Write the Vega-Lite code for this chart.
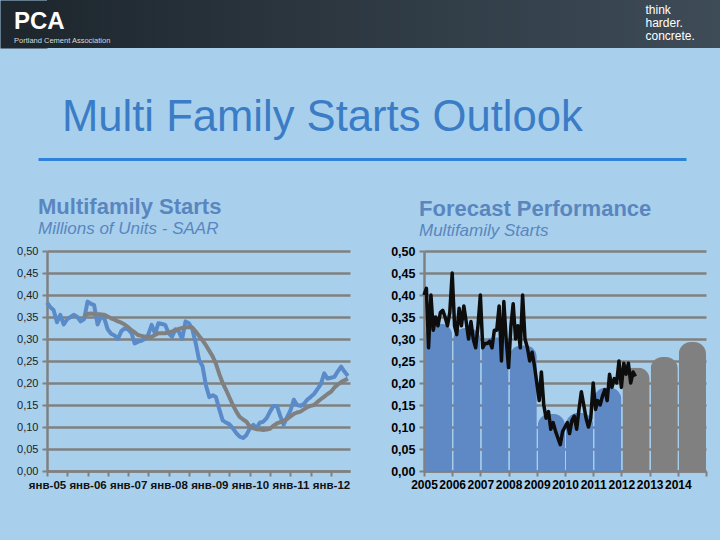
{
  "$schema": "https://vega.github.io/schema/vega-lite/v6.json",
  "background": "#a8d0ec",
  "padding": {"left": 0, "top": 0, "right": 0, "bottom": 49},
  "spacing": 48,
  "config": {"font": "Liberation Sans", "view": {"stroke": null}},
  "datasets": {
    "blue": [
      {"date":"2005-01-01","v":0.383},{"date":"2005-02-01","v":0.372},{"date":"2005-03-01","v":0.366},{"date":"2005-04-01","v":0.338},{"date":"2005-05-01","v":0.355},{"date":"2005-06-01","v":0.333},{"date":"2005-07-01","v":0.345},{"date":"2005-08-01","v":0.350},{"date":"2005-09-01","v":0.355},{"date":"2005-10-01","v":0.350},{"date":"2005-11-01","v":0.340},{"date":"2005-12-01","v":0.345},
      {"date":"2006-01-01","v":0.385},{"date":"2006-02-01","v":0.380},{"date":"2006-03-01","v":0.377},{"date":"2006-04-01","v":0.333},{"date":"2006-05-01","v":0.350},{"date":"2006-06-01","v":0.347},{"date":"2006-07-01","v":0.322},{"date":"2006-08-01","v":0.312},{"date":"2006-09-01","v":0.308},{"date":"2006-10-01","v":0.300},{"date":"2006-11-01","v":0.318},{"date":"2006-12-01","v":0.324},
      {"date":"2007-01-01","v":0.322},{"date":"2007-02-01","v":0.313},{"date":"2007-03-01","v":0.290},{"date":"2007-04-01","v":0.294},{"date":"2007-05-01","v":0.296},{"date":"2007-06-01","v":0.300},{"date":"2007-07-01","v":0.310},{"date":"2007-08-01","v":0.332},{"date":"2007-09-01","v":0.312},{"date":"2007-10-01","v":0.336},{"date":"2007-11-01","v":0.334},{"date":"2007-12-01","v":0.332},
      {"date":"2008-01-01","v":0.313},{"date":"2008-02-01","v":0.305},{"date":"2008-03-01","v":0.322},{"date":"2008-04-01","v":0.317},{"date":"2008-05-01","v":0.300},{"date":"2008-06-01","v":0.340},{"date":"2008-07-01","v":0.336},{"date":"2008-08-01","v":0.322},{"date":"2008-09-01","v":0.290},{"date":"2008-10-01","v":0.252},{"date":"2008-11-01","v":0.238},{"date":"2008-12-01","v":0.195},
      {"date":"2009-01-01","v":0.168},{"date":"2009-02-01","v":0.172},{"date":"2009-03-01","v":0.168},{"date":"2009-04-01","v":0.140},{"date":"2009-05-01","v":0.115},{"date":"2009-06-01","v":0.110},{"date":"2009-07-01","v":0.106},{"date":"2009-08-01","v":0.097},{"date":"2009-09-01","v":0.086},{"date":"2009-10-01","v":0.078},{"date":"2009-11-01","v":0.075},{"date":"2009-12-01","v":0.082},
      {"date":"2010-01-01","v":0.097},{"date":"2010-02-01","v":0.105},{"date":"2010-03-01","v":0.097},{"date":"2010-04-01","v":0.110},{"date":"2010-05-01","v":0.112},{"date":"2010-06-01","v":0.120},{"date":"2010-07-01","v":0.135},{"date":"2010-08-01","v":0.148},{"date":"2010-09-01","v":0.148},{"date":"2010-10-01","v":0.125},{"date":"2010-11-01","v":0.105},{"date":"2010-12-01","v":0.122},
      {"date":"2011-01-01","v":0.138},{"date":"2011-02-01","v":0.162},{"date":"2011-03-01","v":0.150},{"date":"2011-04-01","v":0.148},{"date":"2011-05-01","v":0.152},{"date":"2011-06-01","v":0.162},{"date":"2011-07-01","v":0.168},{"date":"2011-08-01","v":0.175},{"date":"2011-09-01","v":0.186},{"date":"2011-10-01","v":0.197},{"date":"2011-11-01","v":0.222},{"date":"2011-12-01","v":0.210},
      {"date":"2012-01-01","v":0.212},{"date":"2012-02-01","v":0.214},{"date":"2012-03-01","v":0.226},{"date":"2012-04-01","v":0.237},{"date":"2012-05-01","v":0.226},{"date":"2012-06-01","v":0.216}
    ],
    "gray": [
      {"date":"2005-12-01","v":0.352},
      {"date":"2006-01-01","v":0.357},{"date":"2006-02-01","v":0.358},{"date":"2006-03-01","v":0.357},{"date":"2006-04-01","v":0.356},{"date":"2006-05-01","v":0.356},{"date":"2006-06-01","v":0.355},{"date":"2006-07-01","v":0.351},{"date":"2006-08-01","v":0.347},{"date":"2006-09-01","v":0.344},{"date":"2006-10-01","v":0.340},{"date":"2006-11-01","v":0.337},{"date":"2006-12-01","v":0.333},
      {"date":"2007-01-01","v":0.327},{"date":"2007-02-01","v":0.320},{"date":"2007-03-01","v":0.315},{"date":"2007-04-01","v":0.309},{"date":"2007-05-01","v":0.307},{"date":"2007-06-01","v":0.305},{"date":"2007-07-01","v":0.305},{"date":"2007-08-01","v":0.305},{"date":"2007-09-01","v":0.309},{"date":"2007-10-01","v":0.313},{"date":"2007-11-01","v":0.313},{"date":"2007-12-01","v":0.313},
      {"date":"2008-01-01","v":0.315},{"date":"2008-02-01","v":0.317},{"date":"2008-03-01","v":0.320},{"date":"2008-04-01","v":0.323},{"date":"2008-05-01","v":0.325},{"date":"2008-06-01","v":0.326},{"date":"2008-07-01","v":0.327},{"date":"2008-08-01","v":0.326},{"date":"2008-09-01","v":0.317},{"date":"2008-10-01","v":0.307},{"date":"2008-11-01","v":0.297},{"date":"2008-12-01","v":0.286},
      {"date":"2009-01-01","v":0.273},{"date":"2009-02-01","v":0.260},{"date":"2009-03-01","v":0.244},{"date":"2009-04-01","v":0.220},{"date":"2009-05-01","v":0.200},{"date":"2009-06-01","v":0.184},{"date":"2009-07-01","v":0.167},{"date":"2009-08-01","v":0.150},{"date":"2009-09-01","v":0.135},{"date":"2009-10-01","v":0.123},{"date":"2009-11-01","v":0.117},{"date":"2009-12-01","v":0.112},
      {"date":"2010-01-01","v":0.101},{"date":"2010-02-01","v":0.097},{"date":"2010-03-01","v":0.095},{"date":"2010-04-01","v":0.094},{"date":"2010-05-01","v":0.093},{"date":"2010-06-01","v":0.094},{"date":"2010-07-01","v":0.096},{"date":"2010-08-01","v":0.103},{"date":"2010-09-01","v":0.108},{"date":"2010-10-01","v":0.111},{"date":"2010-11-01","v":0.114},{"date":"2010-12-01","v":0.118},
      {"date":"2011-01-01","v":0.124},{"date":"2011-02-01","v":0.130},{"date":"2011-03-01","v":0.133},{"date":"2011-04-01","v":0.135},{"date":"2011-05-01","v":0.140},{"date":"2011-06-01","v":0.145},{"date":"2011-07-01","v":0.148},{"date":"2011-08-01","v":0.150},{"date":"2011-09-01","v":0.157},{"date":"2011-10-01","v":0.163},{"date":"2011-11-01","v":0.169},{"date":"2011-12-01","v":0.175},
      {"date":"2012-01-01","v":0.180},{"date":"2012-02-01","v":0.190},{"date":"2012-03-01","v":0.196},{"date":"2012-04-01","v":0.202},{"date":"2012-05-01","v":0.206},{"date":"2012-06-01","v":0.210}
    ],
    "monthly": [
      {"date":"2005-01-01","v":0.40},{"date":"2005-02-01","v":0.415},{"date":"2005-03-01","v":0.28},{"date":"2005-04-01","v":0.40},{"date":"2005-05-01","v":0.32},{"date":"2005-06-01","v":0.35},{"date":"2005-07-01","v":0.33},{"date":"2005-08-01","v":0.36},{"date":"2005-09-01","v":0.365},{"date":"2005-10-01","v":0.35},{"date":"2005-11-01","v":0.33},{"date":"2005-12-01","v":0.36},
      {"date":"2006-01-01","v":0.45},{"date":"2006-02-01","v":0.33},{"date":"2006-03-01","v":0.31},{"date":"2006-04-01","v":0.37},{"date":"2006-05-01","v":0.33},{"date":"2006-06-01","v":0.375},{"date":"2006-07-01","v":0.34},{"date":"2006-08-01","v":0.30},{"date":"2006-09-01","v":0.34},{"date":"2006-10-01","v":0.30},{"date":"2006-11-01","v":0.28},{"date":"2006-12-01","v":0.33},
      {"date":"2007-01-01","v":0.40},{"date":"2007-02-01","v":0.28},{"date":"2007-03-01","v":0.29},{"date":"2007-04-01","v":0.29},{"date":"2007-05-01","v":0.295},{"date":"2007-06-01","v":0.28},{"date":"2007-07-01","v":0.32},{"date":"2007-08-01","v":0.32},{"date":"2007-09-01","v":0.375},{"date":"2007-10-01","v":0.25},{"date":"2007-11-01","v":0.385},{"date":"2007-12-01","v":0.30},
      {"date":"2008-01-01","v":0.235},{"date":"2008-02-01","v":0.33},{"date":"2008-03-01","v":0.38},{"date":"2008-04-01","v":0.30},{"date":"2008-05-01","v":0.33},{"date":"2008-06-01","v":0.28},{"date":"2008-07-01","v":0.40},{"date":"2008-08-01","v":0.30},{"date":"2008-09-01","v":0.28},{"date":"2008-10-01","v":0.25},{"date":"2008-11-01","v":0.27},{"date":"2008-12-01","v":0.24},
      {"date":"2009-01-01","v":0.20},{"date":"2009-02-01","v":0.16},{"date":"2009-03-01","v":0.225},{"date":"2009-04-01","v":0.15},{"date":"2009-05-01","v":0.12},{"date":"2009-06-01","v":0.135},{"date":"2009-07-01","v":0.095},{"date":"2009-08-01","v":0.11},{"date":"2009-09-01","v":0.09},{"date":"2009-10-01","v":0.075},{"date":"2009-11-01","v":0.06},{"date":"2009-12-01","v":0.09},
      {"date":"2010-01-01","v":0.10},{"date":"2010-02-01","v":0.11},{"date":"2010-03-01","v":0.085},{"date":"2010-04-01","v":0.115},{"date":"2010-05-01","v":0.125},{"date":"2010-06-01","v":0.095},{"date":"2010-07-01","v":0.14},{"date":"2010-08-01","v":0.18},{"date":"2010-09-01","v":0.15},{"date":"2010-10-01","v":0.12},{"date":"2010-11-01","v":0.10},{"date":"2010-12-01","v":0.12},
      {"date":"2011-01-01","v":0.20},{"date":"2011-02-01","v":0.14},{"date":"2011-03-01","v":0.16},{"date":"2011-04-01","v":0.15},{"date":"2011-05-01","v":0.17},{"date":"2011-06-01","v":0.185},{"date":"2011-07-01","v":0.16},{"date":"2011-08-01","v":0.22},{"date":"2011-09-01","v":0.19},{"date":"2011-10-01","v":0.21},{"date":"2011-11-01","v":0.20},{"date":"2011-12-01","v":0.25},
      {"date":"2012-01-01","v":0.19},{"date":"2012-02-01","v":0.245},{"date":"2012-03-01","v":0.22},{"date":"2012-04-01","v":0.245},{"date":"2012-05-01","v":0.20},{"date":"2012-06-01","v":0.225},{"date":"2012-07-01","v":0.215}
    ],
    "annual": [
      {"year":"2005-01-01","v":0.335,"kind":"actual"},
      {"year":"2006-01-01","v":0.325,"kind":"actual"},
      {"year":"2007-01-01","v":0.304,"kind":"actual"},
      {"year":"2008-01-01","v":0.286,"kind":"actual"},
      {"year":"2009-01-01","v":0.130,"kind":"actual"},
      {"year":"2010-01-01","v":0.132,"kind":"actual"},
      {"year":"2011-01-01","v":0.190,"kind":"actual"},
      {"year":"2012-01-01","v":0.235,"kind":"forecast"},
      {"year":"2013-01-01","v":0.259,"kind":"forecast"},
      {"year":"2014-01-01","v":0.293,"kind":"forecast"}
    ],
    "one": [{"k": 0}]
  },
  "vconcat": [
    {
      "width": 673,
      "height": 48,
      "view": {"fill": {"gradient": "linear", "x1": 0, "x2": 1, "y1": 0, "y2": 0, "stops": [{"offset": 0, "color": "#1f282f"}, {"offset": 1, "color": "#3e4c58"}]}, "stroke": null},
      "title": {"text": "PCA", "subtitle": "Portland Cement Association", "anchor": "start", "frame": "group", "orient": "top", "offset": -44, "dx": -33, "font": "Liberation Sans", "fontSize": 24, "fontWeight": "bold", "color": "#ffffff", "subtitleFont": "Liberation Sans", "subtitleFontSize": 7.5, "subtitleColor": "#d8d8d8", "subtitlePadding": 3},
      "data": {"name": "one"},
      "mark": {"type": "point", "opacity": 0},
      "encoding": {
        "y": {"field": "k", "type": "quantitative", "axis": {"orient": "left", "title": null, "labels": false, "ticks": false, "grid": false, "domain": true, "domainColor": "#1e272e", "domainWidth": 47, "domainCap": "butt", "offset": 23.5, "minExtent": 23.5, "maxExtent": 23.5}},
        "x": {"field": "k", "type": "quantitative", "axis": {"orient": "top", "title": ["think", "harder.", "concrete."], "titleAngle": 0, "titleAlign": "left", "titleBaseline": "top", "titleAnchor": null, "titleX": 598, "titleY": 4, "titleColor": "#ffffff", "titleFontSize": 12, "titleFontWeight": "normal", "titleLineHeight": 13, "labels": false, "ticks": false, "domain": false, "grid": false, "minExtent": 0, "maxExtent": 0}}
      }
    },
    {
      "spacing": 35,
      "vconcat": [
        {
          "width": 639,
          "height": 3,
          "title": {"text": "Multi Family Starts Outlook", "anchor": "start", "frame": "group", "dx": 15, "fontSize": 43.6, "fontWeight": "normal", "color": "#3a7cc6", "offset": 14},
          "data": {"name": "one"},
          "mark": {"type": "point", "opacity": 0},
          "encoding": {
            "x": {"field": "k", "type": "quantitative", "scale": {"domain": [0, 1], "range": [-9, 639]}, "axis": {"domainColor": "#2f82d8", "domainWidth": 3, "ticks": false, "labels": false, "grid": false, "title": null}}
          }
        },
        {
          "spacing": 29,
          "hconcat": [
            {
              "width": 303,
              "height": 220,
              "title": {"text": "Multifamily Starts", "subtitle": "Millions of Units - SAAR", "anchor": "start", "frame": "group", "dx": -9, "fontSize": 22, "fontWeight": "bold", "color": "#5a86bf", "subtitleFontSize": 17, "subtitleFontStyle": "italic", "subtitleColor": "#5a86bf", "subtitlePadding": 2, "offset": 7},
              "encoding": {
                "x": {"field": "date", "type": "temporal", "scale": {"type": "utc", "domain": [{"year": 2005, "month": 1, "date": 1, "utc": true}, {"year": 2012, "month": 6, "date": 20, "utc": true}]},
                  "axis": {"values": [
                    {"year": 2005, "month": 1, "date": 1, "utc": true}, {"year": 2005, "month": 7, "date": 1, "utc": true},
                    {"year": 2006, "month": 1, "date": 1, "utc": true}, {"year": 2006, "month": 7, "date": 1, "utc": true},
                    {"year": 2007, "month": 1, "date": 1, "utc": true}, {"year": 2007, "month": 7, "date": 1, "utc": true},
                    {"year": 2008, "month": 1, "date": 1, "utc": true}, {"year": 2008, "month": 7, "date": 1, "utc": true},
                    {"year": 2009, "month": 1, "date": 1, "utc": true}, {"year": 2009, "month": 7, "date": 1, "utc": true},
                    {"year": 2010, "month": 1, "date": 1, "utc": true}, {"year": 2010, "month": 7, "date": 1, "utc": true},
                    {"year": 2011, "month": 1, "date": 1, "utc": true}, {"year": 2011, "month": 7, "date": 1, "utc": true},
                    {"year": 2012, "month": 1, "date": 1, "utc": true}],
                    "labelExpr": "utcmonth(datum.value) == 0 ? 'янв-' + utcFormat(datum.value, '%y') : ''",
                    "title": null, "grid": false, "domainColor": "#808080", "domainWidth": 2.5, "tickColor": "#808080", "tickWidth": 2, "tickSize": 5,
                    "labelFontSize": 11.5, "labelFontWeight": "bold", "labelColor": "#111111", "labelFlush": false, "labelOverlap": false, "labelBound": false, "labelPadding": 3}},
                "y": {"field": "v", "type": "quantitative", "scale": {"domain": [0, 0.5]},
                  "axis": {"values": [0, 0.05, 0.1, 0.15, 0.2, 0.25, 0.3, 0.35, 0.4, 0.45, 0.5], "labelExpr": "replace(format(datum.value, '.2f'), '.', ',')", "title": null,
                    "gridColor": "#808080", "gridWidth": 2.5, "domainColor": "#808080", "domainWidth": 2.5, "tickColor": "#808080", "tickWidth": 2, "tickSize": 5,
                    "labelFontSize": 11, "labelColor": "#222222", "labelPadding": 4, "labelOverlap": false, "minExtent": 47, "maxExtent": 47}}
              },
              "layer": [
                {
                  "data": {"name": "blue"},
                  "mark": {"type": "line", "strokeWidth": 4, "color": "#5b8ac8", "strokeJoin": "round"}
                },
                {
                  "data": {"name": "gray"},
                  "mark": {"type": "line", "strokeWidth": 4, "color": "#808080", "strokeJoin": "round"}
                }
              ]
            },
            {
              "width": 282,
              "height": 220,
              "title": {"text": "Forecast Performance", "subtitle": "Multifamily Starts", "anchor": "start", "frame": "group", "dx": -5, "fontSize": 22, "fontWeight": "bold", "color": "#5a86bf", "subtitleFontSize": 17, "subtitleFontStyle": "italic", "subtitleColor": "#5a86bf", "subtitlePadding": 2, "offset": 5},
              "encoding": {
                "y": {"field": "v", "type": "quantitative", "scale": {"domain": [0, 0.5]},
                  "axis": {"values": [0, 0.05, 0.1, 0.15, 0.2, 0.25, 0.3, 0.35, 0.4, 0.45, 0.5], "labelExpr": "replace(format(datum.value, '.2f'), '.', ',')", "title": null,
                    "gridColor": "#808080", "gridWidth": 2.5, "domainColor": "#808080", "domainWidth": 2.5, "tickColor": "#808080", "tickWidth": 2, "tickSize": 5,
                    "labelFontSize": 12.5, "labelFontWeight": "bold", "labelColor": "#000000", "labelPadding": 4, "labelOverlap": false, "minExtent": 45, "maxExtent": 45}}
              },
              "layer": [
                {
                  "data": {"name": "annual"},
                  "mark": {"type": "bar", "cornerRadiusTopLeft": 12, "cornerRadiusTopRight": 12, "timeUnitBandSize": 0.9, "timeUnitBandPosition": 0.05},
                  "encoding": {
                    "x": {"field": "year", "timeUnit": "utcyear", "type": "temporal", "scale": {"type": "utc", "domain": [{"year": 2005, "month": 1, "date": 1, "utc": true}, {"year": 2015, "month": 1, "date": 1, "utc": true}]},
                      "axis": {"values": [
                        {"year": 2005, "month": 1, "date": 1, "utc": true}, {"year": 2006, "month": 1, "date": 1, "utc": true}, {"year": 2007, "month": 1, "date": 1, "utc": true},
                        {"year": 2008, "month": 1, "date": 1, "utc": true}, {"year": 2009, "month": 1, "date": 1, "utc": true}, {"year": 2010, "month": 1, "date": 1, "utc": true},
                        {"year": 2011, "month": 1, "date": 1, "utc": true}, {"year": 2012, "month": 1, "date": 1, "utc": true}, {"year": 2013, "month": 1, "date": 1, "utc": true},
                        {"year": 2014, "month": 1, "date": 1, "utc": true}, {"year": 2015, "month": 1, "date": 1, "utc": true}],
                        "labelExpr": "utcyear(datum.value) < 2015 ? utcFormat(datum.value, '%Y') : ''",
                        "title": null, "grid": false, "domainColor": "#808080", "domainWidth": 2.5, "tickColor": "#808080", "tickWidth": 2, "tickSize": 5,
                        "labelFontSize": 12, "labelFontWeight": "bold", "labelColor": "#000000", "labelFlush": false, "labelOverlap": false, "labelBound": false, "labelPadding": 3}},
                    "color": {"field": "kind", "type": "nominal", "scale": {"domain": ["actual", "forecast"], "range": ["#5e89c4", "#808080"]}, "legend": null}
                  }
                },
                {
                  "data": {"name": "monthly"},
                  "mark": {"type": "line", "strokeWidth": 3.5, "color": "#0d0d0d", "strokeJoin": "round"},
                  "encoding": {
                    "x": {"field": "date", "type": "temporal",
                      "axis": {"values": [
                        {"year": 2005, "month": 1, "date": 1, "utc": true}, {"year": 2006, "month": 1, "date": 1, "utc": true}, {"year": 2007, "month": 1, "date": 1, "utc": true},
                        {"year": 2008, "month": 1, "date": 1, "utc": true}, {"year": 2009, "month": 1, "date": 1, "utc": true}, {"year": 2010, "month": 1, "date": 1, "utc": true},
                        {"year": 2011, "month": 1, "date": 1, "utc": true}, {"year": 2012, "month": 1, "date": 1, "utc": true}, {"year": 2013, "month": 1, "date": 1, "utc": true},
                        {"year": 2014, "month": 1, "date": 1, "utc": true}, {"year": 2015, "month": 1, "date": 1, "utc": true}],
                        "labelExpr": "utcyear(datum.value) < 2015 ? utcFormat(datum.value, '%Y') : ''",
                        "title": null, "grid": false, "domainColor": "#808080", "domainWidth": 2.5, "tickColor": "#808080", "tickWidth": 2, "tickSize": 5,
                        "labelFontSize": 12, "labelFontWeight": "bold", "labelColor": "#000000", "labelFlush": false, "labelOverlap": false, "labelBound": false, "labelPadding": 3}}
                  }
                }
              ]
            }
          ]
        }
      ]
    }
  ]
}
